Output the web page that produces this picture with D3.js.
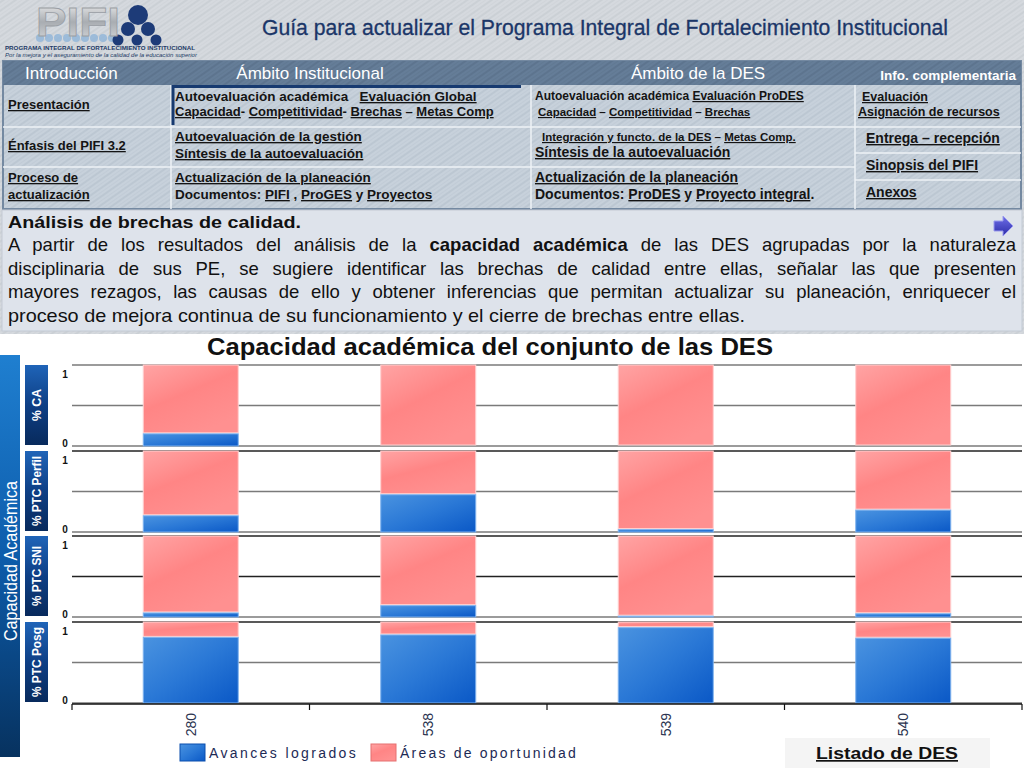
<!DOCTYPE html>
<html>
<head>
<meta charset="utf-8">
<script src="https://cdn.jsdelivr.net/npm/d3@7/dist/d3.min.js"></script>
<style>
body { margin: 0; background: #fff; }
svg { display: block; }
text { font-family: "Liberation Sans", Arial, sans-serif; }
</style>
</head>
<body>
<script>
// chart data
const categories = ["280", "538", "539", "540"];
const indicators = ["% CA", "% PTC Perfil", "% PTC SNI", "% PTC Posg"];
const caValues = [0.15, 0, 0, 0];
const perfilValues = [0.20, 0.46, 0.03, 0.27];
const sniValues = [0.05, 0.14, 0.01, 0.04];
const posgValues = [0.81, 0.84, 0.93, 0.80];
const yTickValues = [0, 1];
const gridValues = [0, 0.5, 1];
const legendLabels = ["Avances logrados", "Áreas de oportunidad"];

const panelValues = [caValues, perfilValues, sniValues, posgValues];

// slide texts
const headerTitle = "Guía para actualizar el Programa Integral de Fortalecimiento Institucional";
const columnTitles = ["Introducción", "Ámbito Institucional", "Ámbito de la DES", "Info. complementaria"];
const paragraphLines = [
  [["A partir de los resultados del análisis de la ", false], ["capacidad académica", true], [" de las DES agrupadas por la naturaleza", false]],
  [["disciplinaria de sus PE, se sugiere identificar las brechas de calidad entre ellas, señalar las que presenten", false]],
  [["mayores rezagos, las causas de ello y obtener inferencias que permitan actualizar su planeación, enriquecer el", false]],
  [["proceso de mejora continua de su funcionamiento y el cierre de brechas entre ellas.", false]]
];

const width = 1024;
const height = 768;
const NARROW = '"Liberation Sans Narrow", "DejaVu Sans Condensed", "Liberation Sans", sans-serif';

var svg = d3.select("body").append("svg")
  .attr("width", width)
  .attr("height", height);

var defs = svg.append("defs");

// brushed texture for the slide header
function texture(id, base, line) {
  var p = defs.append("pattern")
    .attr("id", id)
    .attr("patternUnits", "userSpaceOnUse")
    .attr("width", 7).attr("height", 7)
    .attr("patternTransform", "rotate(-35)");
  p.append("rect").attr("width", 7).attr("height", 7).attr("fill", base);
  p.append("line").attr("x1", 0).attr("y1", 2).attr("x2", 7).attr("y2", 2)
    .attr("stroke", line).attr("stroke-width", 1.5);
  p.append("line").attr("x1", 0).attr("y1", 5.5).attr("x2", 7).attr("y2", 5.5)
    .attr("stroke", line).attr("stroke-width", 0.7).attr("opacity", 0.6);
}
texture("texTop", "#d5d9de", "#c8cdd3");
texture("texCell", "#c7d1db", "#b9c4cf");
texture("texHead", "#657d98", "#5a718b");

function gradient(id, stops, x2, y2) {
  var g = defs.append("linearGradient").attr("id", id)
    .attr("x1", 0).attr("y1", 0).attr("x2", x2).attr("y2", y2);
  stops.forEach(function (s, i) {
    g.append("stop").attr("offset", i / (stops.length - 1)).attr("stop-color", s);
  });
}
gradient("gBlue", ["#4a93e0", "#2a78d6", "#0a58c6"], 1, 1);
gradient("gPink", ["#ffa4a4", "#ff8585", "#ff9090"], 0.6, 1);
gradient("gSideBig", ["#1f7fd0", "#0d5cab", "#07325f"], 0, 1);
gradient("gSide", ["#1f64b8", "#0e3f85", "#082a5c"], 0, 1);
gradient("gLogo", ["#f2f2f2", "#a9adb2", "#d8dadd"], 0, 1);
gradient("gArrow", ["#6e6ee8", "#2d2da8"], 0, 1);

// ---------- slide header ----------
svg.append("rect").attr("x", 0).attr("y", 0).attr("width", width).attr("height", 334)
  .attr("fill", "url(#texTop)");

// logo
var logoDots = svg.append("g");
d3.range(9).forEach(function (i) {
  logoDots.append("circle").attr("cx", 40 + i * 9).attr("cy", 38).attr("r", 4)
    .attr("fill", "#8fb4d8").attr("opacity", 0.8);
});
svg.append("text").attr("x", 36).attr("y", 36)
  .attr("font-size", 40).attr("font-weight", "bold")
  .attr("textLength", 84).attr("lengthAdjust", "spacingAndGlyphs")
  .attr("fill", "url(#gLogo)").attr("stroke", "#9a9ea4").attr("stroke-width", 0.8)
  .text("PIFI");
[[138, 15, 10], [128, 29, 7], [148, 29, 7], [118, 40, 5.5], [137, 40, 5.5], [156, 40, 5.5]].forEach(function (c) {
  logoDots.append("circle").attr("cx", c[0]).attr("cy", c[1]).attr("r", c[2]).attr("fill", "#1d3b78");
});
svg.append("text").attr("x", 5).attr("y", 50).attr("font-size", 5.5).attr("font-weight", "bold")
  .attr("fill", "#233a66").attr("textLength", 190).attr("lengthAdjust", "spacingAndGlyphs")
  .text("PROGRAMA INTEGRAL DE FORTALECIMIENTO INSTITUCIONAL");
svg.append("text").attr("x", 5).attr("y", 57).attr("font-size", 5).attr("font-style", "italic")
  .attr("fill", "#233a66").attr("textLength", 192).attr("lengthAdjust", "spacingAndGlyphs")
  .text("Por la mejora y el aseguramiento de la calidad de la educación superior");

svg.append("text").attr("x", 262).attr("y", 35)
  .attr("font-family", NARROW).attr("font-size", 22)
  .attr("fill", "#1b3668").attr("stroke", "#1b3668").attr("stroke-width", 0.3)
  .attr("textLength", 686).attr("lengthAdjust", "spacingAndGlyphs")
  .text(headerTitle);

// ---------- navigation table ----------
var colEdges = [3, 171, 531, 855, 1021];
var table = svg.append("g");
table.append("rect").attr("x", 3).attr("y", 61).attr("width", 1018).attr("height", 148)
  .attr("fill", "url(#texCell)").attr("stroke", "#7489a1").attr("stroke-width", 2);
table.append("rect").attr("x", 3).attr("y", 61).attr("width", 1018).attr("height", 24)
  .attr("fill", "url(#texHead)");

// separators
[127, 167].forEach(function (y) {
  table.append("line").attr("x1", 3).attr("x2", 855).attr("y1", y).attr("y2", y)
    .attr("stroke", "#eef2f6").attr("stroke-width", 1.5);
});
[127, 153, 180].forEach(function (y) {
  table.append("line").attr("x1", 855).attr("x2", 1021).attr("y1", y).attr("y2", y)
    .attr("stroke", "#eef2f6").attr("stroke-width", 1.5);
});
colEdges.slice(1, 4).forEach(function (x) {
  table.append("line").attr("x1", x).attr("x2", x).attr("y1", 85).attr("y2", 209)
    .attr("stroke", "#eef2f6").attr("stroke-width", 1.5);
});
table.append("path").attr("d", "M173,125 V86.5 H521")
  .attr("fill", "none").attr("stroke", "#173a70").attr("stroke-width", 3);

var headXs = [[25, "start"], [310, "middle"], [698, "middle"], [1016, "end"]];
columnTitles.forEach(function (t, i) {
  table.append("text").attr("x", headXs[i][0]).attr("y", i === 3 ? 80 : 79)
    .attr("text-anchor", headXs[i][1])
    .attr("font-size", i === 3 ? 13.5 : 17).attr("font-weight", i === 3 ? "bold" : "normal")
    .attr("fill", "#fff")
    .text(t);
});

// cell text: [x, y, size, segments [text, underlined]]
var cellLines = [
  [8, 109, 13, [["Presentación", true]]],
  [8, 150, 13, [["Énfasis del PIFI 3.2", true]]],
  [8, 182, 13, [["Proceso de", true]]],
  [8, 199, 13, [["actualización", true]]],
  [175, 101, 13.5, [["Autoevaluación académica", false], ["   ", false], ["Evaluación Global", true]]],
  [175, 116, 13, [["Capacidad", true], ["- ", false], ["Competitividad", true], ["- ", false], ["Brechas", true], [" – ", false], ["Metas Comp", true]]],
  [175, 141, 13.5, [["Autoevaluación de la gestión", true]]],
  [175, 158, 13.5, [["Síntesis de la autoevaluación", true]]],
  [175, 182, 13.5, [["Actualización de la planeación", true]]],
  [175, 199, 13.5, [["Documentos: ", false], ["PIFI", true], [" , ", false], ["ProGES", true], [" y ", false], ["Proyectos", true]]],
  [535, 100, 12, [["Autoevaluación académica ", false], ["Evaluación ProDES", true]]],
  [538, 116, 11.5, [["Capacidad", true], [" – ", false], ["Competitividad", true], [" – ", false], ["Brechas", true]]],
  [542, 141, 11.5, [["Integración y functo. de la DES", true], [" – ", false], ["Metas Comp.", true]]],
  [535, 157, 14, [["Síntesis de la autoevaluación", true]]],
  [535, 182, 14, [["Actualización de la planeación", true]]],
  [535, 199, 14, [["Documentos: ", false], ["ProDES", true], [" y ", false], ["Proyecto integral", true], [".", false]]],
  [862, 101, 12.5, [["Evaluación", true]]],
  [858, 116, 12.5, [["Asignación de recursos", true]]],
  [866, 143, 14, [["Entrega – recepción", true]]],
  [866, 170, 14, [["Sinopsis del PIFI", true]]],
  [866, 197, 14, [["Anexos", true]]]
];
cellLines.forEach(function (l) {
  var t = table.append("text").attr("x", l[0]).attr("y", l[1])
    .attr("font-size", l[2]).attr("font-weight", "bold").attr("fill", "#141414")
    .attr("xml:space", "preserve");
  l[3].forEach(function (s) {
    t.append("tspan").style("text-decoration", s[1] ? "underline" : "none").text(s[0]);
  });
});

// ---------- text block ----------
svg.append("rect").attr("x", 2).attr("y", 210).attr("width", 1020).attr("height", 121)
  .attr("fill", "#dee3eb").attr("stroke", "#c3cad4");
svg.append("text").attr("x", 8).attr("y", 228)
  .attr("font-family", NARROW).attr("font-size", 17).attr("font-weight", "bold")
  .attr("fill", "#111")
  .attr("textLength", 293).attr("lengthAdjust", "spacingAndGlyphs")
  .text("Análisis de brechas de calidad.");
svg.append("path").attr("d", "M994,221 h9 v-5 l10,10 l-10,10 v-5 h-9 z")
  .attr("fill", "url(#gArrow)").attr("stroke", "#9a9aee").attr("stroke-width", 1);

paragraphLines.forEach(function (line, i) {
  var t = svg.append("text").attr("x", 8).attr("y", 251 + i * 23.5)
    .attr("font-family", NARROW).attr("font-size", 18.5).attr("fill", "#111")
    .attr("xml:space", "preserve");
  line.forEach(function (s) {
    t.append("tspan").attr("font-weight", s[1] ? "bold" : "normal").text(s[0]);
  });
  var target = i < 3 ? 1008 : 737;
  var w = t.node().getComputedTextLength();
  var spaces = line.map(function (s) { return s[0]; }).join("").split(" ").length - 1;
  if (i < 3 && w < target) {
    t.attr("word-spacing", (target - w) / spaces);
    var w2 = t.node().getComputedTextLength();
    if (Math.abs(w2 - target) > 3) t.attr("textLength", target).attr("lengthAdjust", "spacingAndGlyphs");
  } else {
    t.attr("textLength", target).attr("lengthAdjust", "spacingAndGlyphs");
  }
});

// ---------- chart ----------
svg.append("text").attr("x", 490).attr("y", 355)
  .attr("text-anchor", "middle")
  .attr("font-size", 24).attr("font-weight", "bold").attr("fill", "#111")
  .attr("textLength", 566).attr("lengthAdjust", "spacingAndGlyphs")
  .text("Capacidad académica del conjunto de las DES");

var plotLeft = 72, plotRight = 1022;
var panelTops = [365, 451, 536, 622];
var panelH = 81;

var x = d3.scaleBand()
  .domain(categories)
  .range([plotLeft, plotRight])
  .paddingInner(0.6)
  .paddingOuter(0.3);

// side labels
svg.append("rect").attr("x", 0).attr("y", 355).attr("width", 20).attr("height", 402)
  .attr("fill", "url(#gSideBig)");
svg.append("text")
  .attr("transform", "translate(17,561) rotate(-90)")
  .attr("text-anchor", "middle")
  .attr("font-family", NARROW).attr("font-size", 19).attr("fill", "#fff")
  .attr("textLength", 160).attr("lengthAdjust", "spacingAndGlyphs")
  .text("Capacidad Académica");

var indicatorLengths = [32, 70, 60, 70];
indicators.forEach(function (name, i) {
  var top = panelTops[i];
  svg.append("rect").attr("x", 25).attr("y", top).attr("width", 23).attr("height", 80)
    .attr("fill", "url(#gSide)");
  svg.append("text")
    .attr("transform", "translate(41," + (top + 40) + ") rotate(-90)")
    .attr("text-anchor", "middle")
    .attr("font-family", NARROW).attr("font-size", 13).attr("font-weight", "bold")
    .attr("fill", "#fff")
    .attr("textLength", indicatorLengths[i]).attr("lengthAdjust", "spacingAndGlyphs")
    .text(name);
});

panelValues.forEach(function (values, i) {
  var top = panelTops[i];
  var y = d3.scaleLinear().domain([0, 1]).range([top + panelH, top]);
  var g = svg.append("g");

  g.selectAll("line.grid")
    .data(gridValues)
    .enter().append("line")
    .attr("class", "grid")
    .attr("x1", plotLeft).attr("x2", plotRight)
    .attr("y1", d => y(d)).attr("y2", d => y(d))
    .attr("stroke", d => (d === 1 && i > 0) || (d === 0.5 && i === 2) ? "#222" : "#7a7a7a")
    .attr("stroke-width", 1.5);

  g.selectAll("text.ytick")
    .data(yTickValues)
    .enter().append("text")
    .attr("class", "ytick")
    .attr("x", 65).attr("y", d => d === 1 ? y(d) + 13 : y(d) + 1)
    .attr("text-anchor", "middle")
    .attr("font-family", '"Liberation Serif", "DejaVu Serif", serif')
    .attr("font-size", 10).attr("font-weight", "bold").attr("fill", "#111")
    .text(d => d);

  // areas de oportunidad (remainder up to 1)
  g.selectAll("rect.gap")
    .data(values)
    .enter().append("rect")
    .attr("class", "gap")
    .attr("x", (d, j) => x(categories[j]))
    .attr("y", y(1))
    .attr("width", x.bandwidth())
    .attr("height", d => Math.max(0, y(d) - y(1) - 1))
    .attr("fill", "url(#gPink)")
    .attr("stroke", "#ffd0d0").attr("stroke-width", 1);

  // avances logrados
  g.selectAll("rect.done")
    .data(values)
    .enter().append("rect")
    .attr("class", "done")
    .attr("x", (d, j) => x(categories[j]))
    .attr("y", d => y(d))
    .attr("width", x.bandwidth())
    .attr("height", d => y(0) - y(d))
    .attr("fill", "url(#gBlue)")
    .attr("stroke", "#7fb2ee").attr("stroke-width", 1);
});

// x axis
var axisY = panelTops[3] + panelH + 1;
svg.append("line").attr("x1", plotLeft).attr("x2", plotRight)
  .attr("y1", axisY).attr("y2", axisY)
  .attr("stroke", "#111").attr("stroke-width", 1.5);
svg.selectAll("line.xtick")
  .data(d3.range(categories.length + 1))
  .enter().append("line")
  .attr("class", "xtick")
  .attr("x1", d => plotLeft + d * x.step()).attr("x2", d => plotLeft + d * x.step())
  .attr("y1", axisY).attr("y2", axisY + 6)
  .attr("stroke", "#111").attr("stroke-width", 1.2);
svg.selectAll("text.xlabel")
  .data(categories)
  .enter().append("text")
  .attr("class", "xlabel")
  .attr("transform", d => "translate(" + (x(d) + x.bandwidth() / 2 + 5) + "," + (axisY + 9) + ") rotate(-90)")
  .attr("text-anchor", "end")
  .attr("font-size", 14).attr("fill", "#2b3450")
  .text(d => d);

// legend
var legendX = [180, 371];
legendLabels.forEach(function (label, i) {
  svg.append("rect").attr("x", legendX[i]).attr("y", 744).attr("width", 25).attr("height", 17)
    .attr("fill", i === 0 ? "url(#gBlue)" : "url(#gPink)")
    .attr("stroke", i === 0 ? "#0b4fae" : "#e57070");
  svg.append("text").attr("x", legendX[i] + 29).attr("y", 758)
    .attr("font-family", NARROW).attr("font-size", 14).attr("fill", "#1d2a55")
    .attr("letter-spacing", 1.2)
    .attr("textLength", i === 0 ? 148 : 177).attr("lengthAdjust", "spacing")
    .text(label);
});

svg.append("rect").attr("x", 785).attr("y", 738).attr("width", 205).attr("height", 30)
  .attr("fill", "#f4f4f4");
svg.append("text").attr("x", 887).attr("y", 759)
  .attr("text-anchor", "middle")
  .attr("font-family", NARROW).attr("font-size", 17).attr("font-weight", "bold")
  .attr("fill", "#111").style("text-decoration", "underline")
  .attr("textLength", 142).attr("lengthAdjust", "spacingAndGlyphs")
  .text("Listado de DES");
</script>
</body>
</html>
